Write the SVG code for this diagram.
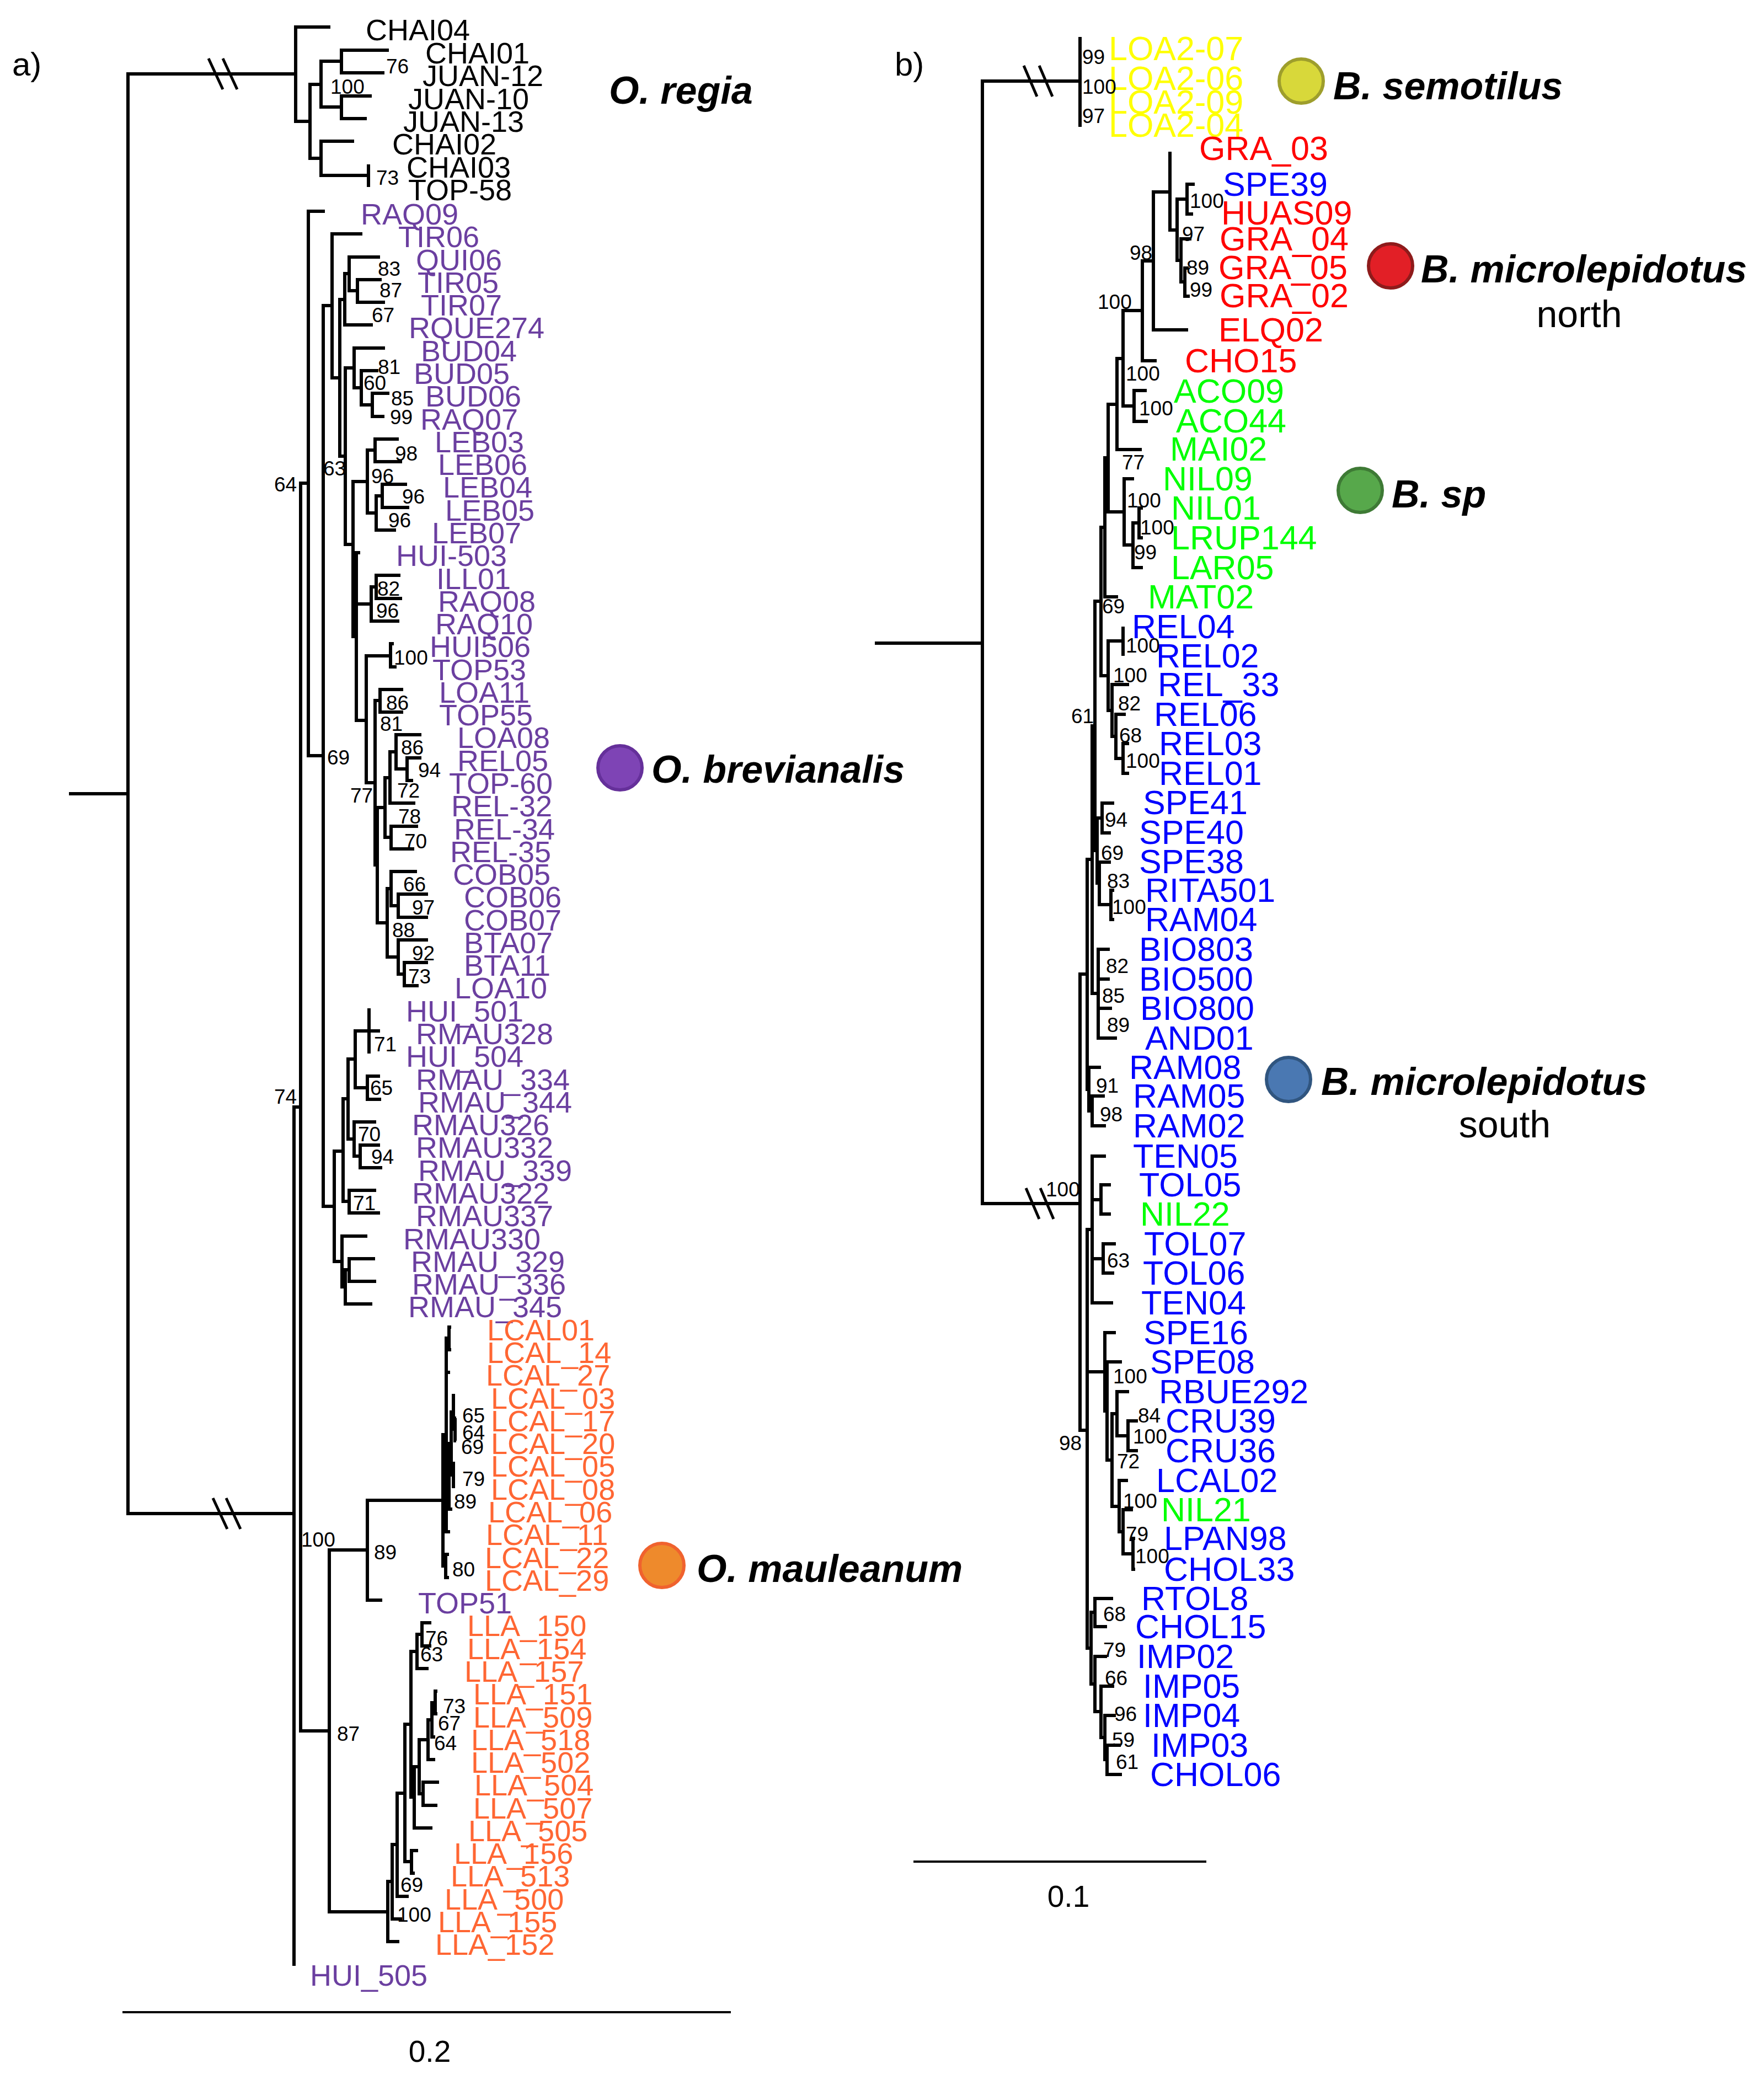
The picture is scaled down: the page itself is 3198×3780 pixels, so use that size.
<svg xmlns="http://www.w3.org/2000/svg" width="3198" height="3780" viewBox="0 0 3198 3780">
<style>
.br{fill:none;stroke:#000;stroke-width:6;stroke-linejoin:miter;stroke-linecap:butt}
.bk{fill:none;stroke:#000;stroke-width:5}
.sc{fill:none;stroke:#000;stroke-width:4}
text{font-family:"Liberation Sans",Arial,sans-serif}
.la{font-size:54px}
.lb{font-size:61px}
.s{font-size:37px;fill:#000}
.sp{font-size:70px;font-weight:bold;font-style:italic;fill:#000}
.rg{font-size:68px;fill:#000}
.pl{font-size:60px;fill:#000}
.k{fill:#000}.p{fill:#6B3FA0}.o{fill:#FF6633}.y{fill:#FFFF00}.r{fill:#FF0000}.b{fill:#0000FF}.g{fill:#00FF00}
</style>
<rect width="3198" height="3780" fill="#fff"/>
<text class="pl" x="22" y="137">a)</text>
<text class="pl" x="1622" y="137">b)</text>

<g id="branches-a" class="br">
<path d="M125,1439 H232"/>
<path d="M536,134 H232 V2744 H533"/>
<path d="M599,49 H536 V220 H562"/>
<path d="M582,153 H562 V287 H582"/>
<path d="M619,111 H582 V194 H619"/>
<path d="M705,91 H619 V132 H697"/>
<path d="M674,174 H619 V215 H665"/>
<path d="M642,256 H582 V318 H668"/>
<path d="M668,298 V339"/>
<path d="M545,2007 H533 V3564"/>
<path d="M559,876 H545 V3138 H597"/>
<path d="M589,383 H559 V1370 H586"/>
<path d="M602,554 H586 V2187 H606"/>
<path d="M657,424 H602 V685 H616"/>
<path d="M625,543 H616 V827 H626"/>
<path d="M633,496 H625 V589 H676"/>
<path d="M689,466 H633 V527 H648"/>
<path d="M692,507 H648 V548 H698"/>
<path d="M642,667 H626 V987 H640"/>
<path d="M698,631 H642 V703 H655"/>
<path d="M686,672 H655 V734 H675"/>
<path d="M706,713 H675 V755 H697"/>
<path d="M666,873 H640 V1154 H646 M640,1095 H673"/>
<path d="M680,816 H666 V930 H682"/>
<path d="M723,796 H680 V837 H729"/>
<path d="M693,899 H682 V961 H718"/>
<path d="M738,878 H693 V920 H742"/>
<path d="M682,1064 H673 V1126 H724"/>
<path d="M726,1043 H682 V1085 H729"/>
<path d="M653,1002 H646 V1306 H664"/>
<path d="M708,1189 H664 V1419 H680"/>
<path d="M714,1167 H708 V1209 H719"/>
<path d="M689,1270 H680 V1568 H684"/>
<path d="M731,1250 H689 V1291 H731"/>
<path d="M698,1464 H684 V1673 H702"/>
<path d="M718,1363 H707 V1456 H753"/>
<path d="M707,1410 H698 V1518 H709"/>
<path d="M764,1332 H718 V1394 H738"/>
<path d="M764,1374 H738 V1415 H749"/>
<path d="M758,1498 H709 V1539 H751"/>
<path d="M709,1611 H702 V1735 H722"/>
<path d="M756,1580 H709 V1642 H722"/>
<path d="M776,1621 H722 V1663 H776"/>
<path d="M776,1704 H722 V1766 H733"/>
<path d="M776,1745 H733 V1787 H759"/>
<path d="M622,2087 H606 V2287 H620"/>
<path d="M631,1992 H622 V2178 H633"/>
<path d="M644,1920 H631 V2065 H642"/>
<path d="M669,1869 H644 V1972 H666"/>
<path d="M669,1828 V1910 M669,1869 H689"/>
<path d="M689,1951 H666 V1993 H691"/>
<path d="M682,2034 H642 V2096 H653"/>
<path d="M689,2076 H653 V2117 H693"/>
<path d="M682,2158 H633 V2199 H689"/>
<path d="M666,2241 H620 V2333 H626"/>
<path d="M633,2302 H626 V2364 H675"/>
<path d="M680,2282 H633 V2323 H682"/>
<path d="M666,2810 H597 V3466 H703"/>
<path d="M803,2720 H666 V2901 H693"/>
<path d="M809,2601 H803 V2839 H808"/>
<path d="M814,2426 H809 V2777 H816 M809,2488 H816 M809,2676 H814"/>
<path d="M818,2406 H814 V2447 H818"/>
<path d="M818,2617 H814 V2736 H820"/>
<path d="M822,2560 H818 V2674 H822"/>
<path d="M825,2530 H822 V2591 H825"/>
<path d="M827,2571 H825 V2612 H827"/>
<path d="M825,2653 H822 V2695 H825"/>
<path d="M814,2818 H808 V2860 H814"/>
<path d="M711,3411 H703 V3520 H724"/>
<path d="M720,3344 H711 V3479 H729"/>
<path d="M734,3251 H720 V3438 H741"/>
<path d="M745,3126 H734 V3375 H746"/>
<path d="M758,3355 H746 V3396 H752"/>
<path d="M756,2994 H745 V3258 H751"/>
<path d="M765,2963 H756 V3025 H777"/>
<path d="M782,2942 H765 V2984 H782"/>
<path d="M760,3203 H751 V3314 H784"/>
<path d="M776,3154 H760 V3252 H767"/>
<path d="M796,3231 H767 V3273 H793"/>
<path d="M783,3118 H776 V3190 H789"/>
<path d="M789,3087 H783 V3149 H789"/>
<path d="M793,3066 H789 V3107 H793"/>
</g>
<g id="breaks" class="bk">
<path d="M378,106 L404,162 M404,106 L430,162"/>
<path d="M386,2716 L412,2772 M410,2716 L436,2772"/>
<path d="M1856,119 L1880,175 M1884,119 L1908,175"/>
<path d="M1860,2154 L1884,2210 M1886,2154 L1910,2210"/>
</g>

<g id="leaves-a" class="la">
<text id="CHAI04" class="k" x="663" y="73">CHAI04</text>
<text id="CHAI01" class="k" x="771" y="115">CHAI01</text>
<text id="JUAN-12" class="k" x="766" y="156">JUAN-12</text>
<text id="JUAN-10" class="k" x="740" y="198">JUAN-10</text>
<text id="JUAN-13" class="k" x="731" y="239">JUAN-13</text>
<text id="CHAI02" class="k" x="711" y="280">CHAI02</text>
<text id="CHAI03" class="k" x="737" y="322">CHAI03</text>
<text id="TOP-58" class="k" x="740" y="363">TOP-58</text>
<text id="RAQ09" class="p" x="654" y="407">RAQ09</text>
<text id="TIR06" class="p" x="722" y="448">TIR06</text>
<text id="QUI06" class="p" x="754" y="490">QUI06</text>
<text id="TIR05" class="p" x="757" y="531">TIR05</text>
<text id="TIR07" class="p" x="763" y="572">TIR07</text>
<text id="RQUE274" class="p" x="741" y="613">RQUE274</text>
<text id="BUD04" class="p" x="763" y="655">BUD04</text>
<text id="BUD05" class="p" x="750" y="696">BUD05</text>
<text id="BUD06" class="p" x="771" y="737">BUD06</text>
<text id="RAQ07" class="p" x="762" y="779">RAQ07</text>
<text id="LEB03" class="p" x="788" y="820">LEB03</text>
<text id="LEB06" class="p" x="794" y="861">LEB06</text>
<text id="LEB04" class="p" x="803" y="902">LEB04</text>
<text id="LEB05" class="p" x="807" y="944">LEB05</text>
<text id="LEB07" class="p" x="783" y="985">LEB07</text>
<text id="HUI-503" class="p" x="718" y="1026">HUI-503</text>
<text id="ILL01" class="p" x="791" y="1068">ILL01</text>
<text id="RAQ08" class="p" x="794" y="1109">RAQ08</text>
<text id="RAQ10" class="p" x="789" y="1150">RAQ10</text>
<text id="HUI506" class="p" x="779" y="1191">HUI506</text>
<text id="TOP53" class="p" x="784" y="1233">TOP53</text>
<text id="LOA11" class="p" x="796" y="1274">LOA11</text>
<text id="TOP55" class="p" x="796" y="1315">TOP55</text>
<text id="LOA08" class="p" x="829" y="1356">LOA08</text>
<text id="REL05" class="p" x="829" y="1398">REL05</text>
<text id="TOP-60" class="p" x="814" y="1439">TOP-60</text>
<text id="REL-32" class="p" x="818" y="1480">REL-32</text>
<text id="REL-34" class="p" x="823" y="1522">REL-34</text>
<text id="REL-35" class="p" x="816" y="1563">REL-35</text>
<text id="COB05" class="p" x="821" y="1604">COB05</text>
<text id="COB06" class="p" x="841" y="1645">COB06</text>
<text id="COB07" class="p" x="841" y="1687">COB07</text>
<text id="BTA07" class="p" x="841" y="1728">BTA07</text>
<text id="BTA11" class="p" x="841" y="1769">BTA11</text>
<text id="LOA10" class="p" x="824" y="1810">LOA10</text>
<text id="HUI_501" class="p" x="736" y="1852">HUI_501</text>
<text id="RMAU328" class="p" x="754" y="1893">RMAU328</text>
<text id="HUI_504" class="p" x="736" y="1934">HUI_504</text>
<text id="RMAU_334" class="p" x="754" y="1976">RMAU_334</text>
<text id="RMAU_344" class="p" x="758" y="2017">RMAU_344</text>
<text id="RMAU326" class="p" x="747" y="2058">RMAU326</text>
<text id="RMAU332" class="p" x="754" y="2099">RMAU332</text>
<text id="RMAU_339" class="p" x="758" y="2141">RMAU_339</text>
<text id="RMAU322" class="p" x="747" y="2182">RMAU322</text>
<text id="RMAU337" class="p" x="754" y="2223">RMAU337</text>
<text id="RMAU330" class="p" x="731" y="2265">RMAU330</text>
<text id="RMAU_329" class="p" x="745" y="2306">RMAU_329</text>
<text id="RMAU_336" class="p" x="747" y="2347">RMAU_336</text>
<text id="RMAU_345" class="p" x="740" y="2388">RMAU_345</text>
<text id="LCAL01" class="o" x="883" y="2430">LCAL01</text>
<text id="LCAL_14" class="o" x="883" y="2471">LCAL_14</text>
<text id="LCAL_27" class="o" x="881" y="2512">LCAL_27</text>
<text id="LCAL_03" class="o" x="890" y="2554">LCAL_03</text>
<text id="LCAL_17" class="o" x="890" y="2595">LCAL_17</text>
<text id="LCAL_20" class="o" x="890" y="2636">LCAL_20</text>
<text id="LCAL_05" class="o" x="890" y="2677">LCAL_05</text>
<text id="LCAL_08" class="o" x="890" y="2719">LCAL_08</text>
<text id="LCAL_06" class="o" x="885" y="2760">LCAL_06</text>
<text id="LCAL_11" class="o" x="881" y="2801">LCAL_11</text>
<text id="LCAL_22" class="o" x="879" y="2843">LCAL_22</text>
<text id="LCAL_29" class="o" x="879" y="2884">LCAL_29</text>
<text id="TOP51" class="p" x="758" y="2925">TOP51</text>
<text id="LLA_150" class="o" x="847" y="2966">LLA_150</text>
<text id="LLA_154" class="o" x="847" y="3008">LLA_154</text>
<text id="LLA_157" class="o" x="842" y="3049">LLA_157</text>
<text id="LLA_151" class="o" x="858" y="3090">LLA_151</text>
<text id="LLA_509" class="o" x="858" y="3132">LLA_509</text>
<text id="LLA_518" class="o" x="854" y="3173">LLA_518</text>
<text id="LLA_502" class="o" x="854" y="3214">LLA_502</text>
<text id="LLA_504" class="o" x="860" y="3255">LLA_504</text>
<text id="LLA_507" class="o" x="858" y="3297">LLA_507</text>
<text id="LLA_505" class="o" x="849" y="3338">LLA_505</text>
<text id="LLA_156" class="o" x="823" y="3379">LLA_156</text>
<text id="LLA_513" class="o" x="817" y="3420">LLA_513</text>
<text id="LLA_500" class="o" x="806" y="3462">LLA_500</text>
<text id="LLA_155" class="o" x="794" y="3503">LLA_155</text>
<text id="LLA_152" class="o" x="789" y="3544">LLA_152</text>
<text id="HUI_505" class="p" x="562" y="3600">HUI_505</text>
</g>

<g id="support-a" class="s">
<text x="700" y="133">76</text><text x="599" y="170">100</text><text x="682" y="335">73</text>
<text x="685" y="500">83</text><text x="688" y="539">87</text><text x="674" y="584">67</text>
<text x="685" y="678">81</text><text x="659" y="707">60</text><text x="709" y="735">85</text><text x="707" y="769">99</text>
<text x="716" y="835">98</text><text x="586" y="862">63</text><text x="673" y="876">96</text><text x="729" y="913">96</text><text x="704" y="956">96</text>
<text x="497" y="891">64</text>
<text x="684" y="1080">82</text><text x="682" y="1120">96</text><text x="714" y="1205">100</text>
<text x="700" y="1287">86</text><text x="689" y="1325">81</text><text x="727" y="1368">86</text><text x="758" y="1409">94</text>
<text x="593" y="1386">69</text><text x="720" y="1446">72</text><text x="635" y="1455">77</text><text x="722" y="1493">78</text><text x="733" y="1538">70</text>
<text x="731" y="1616">66</text><text x="747" y="1658">97</text><text x="711" y="1699">88</text><text x="747" y="1741">92</text><text x="740" y="1783">73</text>
<text x="678" y="1906">71</text><text x="671" y="1985">65</text><text x="497" y="2001">74</text><text x="649" y="2069">70</text><text x="673" y="2110">94</text><text x="640" y="2194">71</text>
<text x="838" y="2579">65</text><text x="838" y="2610">64</text><text x="836" y="2636">69</text><text x="838" y="2694">79</text><text x="823" y="2735">89</text><text x="820" y="2858">80</text>
<text x="546" y="2804">100</text><text x="678" y="2827">89</text><text x="611" y="3156">87</text>
<text x="771" y="2983">76</text><text x="762" y="3012">63</text><text x="803" y="3106">73</text><text x="794" y="3137">67</text><text x="787" y="3173">64</text>
<text x="726" y="3430">69</text><text x="720" y="3484">100</text>
</g>

<g id="branches-b" class="br">
<path d="M1586,1166 H1781"/>
<path d="M1958,147 H1781 V2182 H1958"/>
<path d="M1958,67 V230"/>
<path d="M2071,563 H2036 V736 H2056"/>
<path d="M2091,473 H2071 V654 H2097"/>
<path d="M2121,348 H2091 V598 H2154"/>
<path d="M2121,275 V417 H2134"/>
<path d="M2152,361 H2134 V472 H2141"/>
<path d="M2166,334 H2152 V388 H2163"/>
<path d="M2160,433 H2141 V511 H2148"/>
<path d="M2155,486 H2148 V537 H2157"/>
<path d="M2079,708 H2056 V764 H2081"/>
<path d="M2036,650 H2025 V815 H2070"/>
<path d="M2025,733 H2009 V928 H2038"/>
<path d="M2056,868 H2038 V988 H2054"/>
<path d="M2065,948 H2054 V1029 H2072"/>
<path d="M2072,921 H2065 V975 H2072"/>
<path d="M2009,830 H2003 V1082 H2027"/>
<path d="M2003,956 H1996 V1225 H2009"/>
<path d="M2036,1162 H2009 V1288 H2016"/>
<path d="M2036,1136 V1189"/>
<path d="M2047,1241 H2016 V1335 H2023"/>
<path d="M2041,1295 H2023 V1375 H2036"/>
<path d="M2047,1348 H2036 V1402 H2047"/>
<path d="M1996,1090 H1985 V1542 H1989"/>
<path d="M1998,1483 H1989 V1601 H1993"/>
<path d="M2020,1456 H1998 V1510 H2014"/>
<path d="M2014,1563 H1993 V1640 H2014"/>
<path d="M2020,1614 H2014 V1667 H2020"/>
<path d="M1985,1316 H1980 V1801 H1991"/>
<path d="M2012,1721 H1991 V1882 H2025 M1991,1775 H2012 M1991,1828 H2016"/>
<path d="M1980,1558 H1971 V1975 H1974"/>
<path d="M1996,1935 H1974 V2014 H1980"/>
<path d="M2003,1987 H1980 V2041 H2005"/>
<path d="M1971,1766 H1958 V2593 H1971"/>
<path d="M1980,2229 H1971 V2988 H1978 M1971,2487 H2003"/>
<path d="M2005,2096 H1980 V2362 H2018 M1980,2175 H1996 M1980,2282 H2000"/>
<path d="M2014,2148 H1996 V2201 H2014"/>
<path d="M2023,2255 H2000 V2308 H2020"/>
<path d="M2023,2416 H2003 V2558 H2007"/>
<path d="M2034,2469 H2007 V2647 H2016"/>
<path d="M2025,2563 H2016 V2731 H2029"/>
<path d="M2047,2523 H2025 V2603 H2045"/>
<path d="M2063,2576 H2045 V2630 H2063"/>
<path d="M2045,2684 H2029 V2777 H2036"/>
<path d="M2054,2737 H2036 V2817 H2054"/>
<path d="M2058,2789 H2054 V2845 H2058"/>
<path d="M1985,2923 H1978 V3053 H1985"/>
<path d="M2018,2898 H1985 V2949 H2007"/>
<path d="M2007,3003 H1985 V3103 H1996"/>
<path d="M2020,3057 H1996 V3150 H2003"/>
<path d="M2023,3110 H2003 V3190 H2007"/>
<path d="M2032,3164 H2007 V3217 H2034"/>
</g>

<g id="leaves-b" class="lb">
<text id="LOA2-07" class="y" x="2010" y="109">LOA2-07</text>
<text id="LOA2-06" class="y" x="2010" y="163">LOA2-06</text>
<text id="LOA2-09" class="y" x="2010" y="206">LOA2-09</text>
<text id="LOA2-04" class="y" x="2010" y="248">LOA2-04</text>
<text id="GRA_03" class="r" x="2174" y="290">GRA_03</text>
<text id="SPE39" class="b" x="2217" y="355">SPE39</text>
<text id="HUAS09" class="r" x="2214" y="407">HUAS09</text>
<text id="GRA_04" class="r" x="2211" y="454">GRA_04</text>
<text id="GRA_05" class="r" x="2209" y="506">GRA_05</text>
<text id="GRA_02" class="r" x="2211" y="557">GRA_02</text>
<text id="ELQ02" class="r" x="2209" y="619">ELQ02</text>
<text id="CHO15" class="r" x="2148" y="675">CHO15</text>
<text id="ACO09" class="g" x="2128" y="730">ACO09</text>
<text id="ACO44" class="g" x="2132" y="784">ACO44</text>
<text id="MAI02" class="g" x="2121" y="835">MAI02</text>
<text id="NIL09" class="g" x="2108" y="889">NIL09</text>
<text id="NIL01" class="g" x="2123" y="942">NIL01</text>
<text id="LRUP144" class="g" x="2123" y="996">LRUP144</text>
<text id="LAR05" class="g" x="2123" y="1050">LAR05</text>
<text id="MAT02" class="g" x="2081" y="1103">MAT02</text>
<text id="REL04" class="b" x="2052" y="1157">REL04</text>
<text id="REL02" class="b" x="2096" y="1210">REL02</text>
<text id="REL_33" class="b" x="2099" y="1262">REL_33</text>
<text id="REL06" class="b" x="2092" y="1316">REL06</text>
<text id="REL03" class="b" x="2101" y="1369">REL03</text>
<text id="REL01" class="b" x="2101" y="1423">REL01</text>
<text id="SPE41" class="b" x="2072" y="1476">SPE41</text>
<text id="SPE40" class="b" x="2065" y="1530">SPE40</text>
<text id="SPE38" class="b" x="2065" y="1583">SPE38</text>
<text id="RITA501" class="b" x="2076" y="1635">RITA501</text>
<text id="RAM04" class="b" x="2076" y="1688">RAM04</text>
<text id="BIO803" class="b" x="2065" y="1742">BIO803</text>
<text id="BIO500" class="b" x="2065" y="1796">BIO500</text>
<text id="BIO800" class="b" x="2067" y="1849">BIO800</text>
<text id="AND01" class="b" x="2076" y="1903">AND01</text>
<text id="RAM08" class="b" x="2047" y="1956">RAM08</text>
<text id="RAM05" class="b" x="2054" y="2008">RAM05</text>
<text id="RAM02" class="b" x="2054" y="2062">RAM02</text>
<text id="TEN05" class="b" x="2054" y="2117">TEN05</text>
<text id="TOL05" class="b" x="2065" y="2169">TOL05</text>
<text id="NIL22" class="g" x="2067" y="2222">NIL22</text>
<text id="TOL07" class="b" x="2074" y="2276">TOL07</text>
<text id="TOL06" class="b" x="2072" y="2329">TOL06</text>
<text id="TEN04" class="b" x="2069" y="2383">TEN04</text>
<text id="SPE16" class="b" x="2073" y="2437">SPE16</text>
<text id="SPE08" class="b" x="2085" y="2490">SPE08</text>
<text id="RBUE292" class="b" x="2101" y="2544">RBUE292</text>
<text id="CRU39" class="b" x="2113" y="2597">CRU39</text>
<text id="CRU36" class="b" x="2113" y="2651">CRU36</text>
<text id="LCAL02" class="b" x="2096" y="2705">LCAL02</text>
<text id="NIL21" class="g" x="2105" y="2758">NIL21</text>
<text id="LPAN98" class="b" x="2110" y="2810">LPAN98</text>
<text id="CHOL33" class="b" x="2110" y="2866">CHOL33</text>
<text id="RTOL8" class="b" x="2069" y="2919">RTOL8</text>
<text id="CHOL15" class="b" x="2058" y="2970">CHOL15</text>
<text id="IMP02" class="b" x="2061" y="3024">IMP02</text>
<text id="IMP05" class="b" x="2072" y="3078">IMP05</text>
<text id="IMP04" class="b" x="2072" y="3131">IMP04</text>
<text id="IMP03" class="b" x="2087" y="3185">IMP03</text>
<text id="CHOL06" class="b" x="2085" y="3238">CHOL06</text>
</g>

<g id="support-b" class="s">
<text x="1962" y="116">99</text><text x="1962" y="170">100</text><text x="1962" y="223">97</text>
<text x="2157" y="377">100</text><text x="2143" y="437">97</text><text x="2048" y="471">98</text><text x="2151" y="498">89</text><text x="2157" y="538">99</text><text x="1990" y="560">100</text>
<text x="2041" y="690">100</text><text x="2065" y="753">100</text><text x="2034" y="851">77</text><text x="2043" y="920">100</text><text x="2067" y="969">100</text><text x="2056" y="1014">99</text>
<text x="1998" y="1112">69</text><text x="2041" y="1183">100</text><text x="2018" y="1237">100</text><text x="2027" y="1288">82</text><text x="1942" y="1311">61</text><text x="2029" y="1346">68</text>
<text x="2041" y="1392">100</text><text x="2003" y="1499">94</text><text x="1996" y="1559">69</text><text x="2007" y="1610">83</text><text x="2016" y="1657">100</text>
<text x="2005" y="1764">82</text><text x="1998" y="1818">85</text><text x="2007" y="1871">89</text><text x="1987" y="1981">91</text><text x="1994" y="2033">98</text>
<text x="1896" y="2169">100</text><text x="2007" y="2298">63</text><text x="2018" y="2508">100</text><text x="2063" y="2579">84</text><text x="2054" y="2617">100</text><text x="1920" y="2629">98</text>
<text x="2025" y="2662">72</text><text x="2036" y="2734">100</text><text x="2041" y="2794">79</text><text x="2058" y="2834">100</text>
<text x="2000" y="2939">68</text><text x="2000" y="3004">79</text><text x="2003" y="3055">66</text><text x="2020" y="3120">96</text><text x="2016" y="3167">59</text><text x="2023" y="3207">61</text>
</g>

<g id="legend-O-regia"><text class="sp" x="1104" y="188">O. regia</text></g>
<g id="legend-O-brevianalis">
<circle cx="1124" cy="1392" r="40" fill="#7E44B5" stroke="#65309A" stroke-width="6"/>
<text class="sp" x="1181" y="1419">O. brevianalis</text></g>
<g id="legend-O-mauleanum">
<circle cx="1200" cy="2838" r="40" fill="#EE8A2C" stroke="#F0622E" stroke-width="6"/>
<text class="sp" x="1263" y="2868">O. mauleanum</text></g>
<g id="legend-B-semotilus">
<circle cx="2359" cy="147" r="40" fill="#D8D83A" stroke="#9E9E2C" stroke-width="6"/>
<text class="sp" x="2417" y="180">B. semotilus</text></g>
<g id="legend-B-micro-north">
<circle cx="2521" cy="482" r="40" fill="#E21F26" stroke="#8E1B1B" stroke-width="6"/>
<text class="sp" x="2576" y="512">B. microlepidotus</text>
<text class="rg" x="2863" y="593" text-anchor="middle">north</text></g>
<g id="legend-B-sp">
<circle cx="2466" cy="889" r="40" fill="#57A84B" stroke="#3E7A35" stroke-width="6"/>
<text class="sp" x="2523" y="920">B. sp</text></g>
<g id="legend-B-micro-south">
<circle cx="2336" cy="1957" r="40" fill="#4A78B2" stroke="#30557F" stroke-width="6"/>
<text class="sp" x="2395" y="1985">B. microlepidotus</text>
<text class="rg" x="2728" y="2062" text-anchor="middle">south</text></g>

<g id="scalebars">
<path class="sc" d="M222,3648 H1325"/>
<text x="779" y="3738" text-anchor="middle" style="font-size:55px">0.2</text>
<path class="sc" d="M1656,3375 H2187"/>
<text x="1937" y="3457" text-anchor="middle" style="font-size:55px">0.1</text>
</g>
</svg>
